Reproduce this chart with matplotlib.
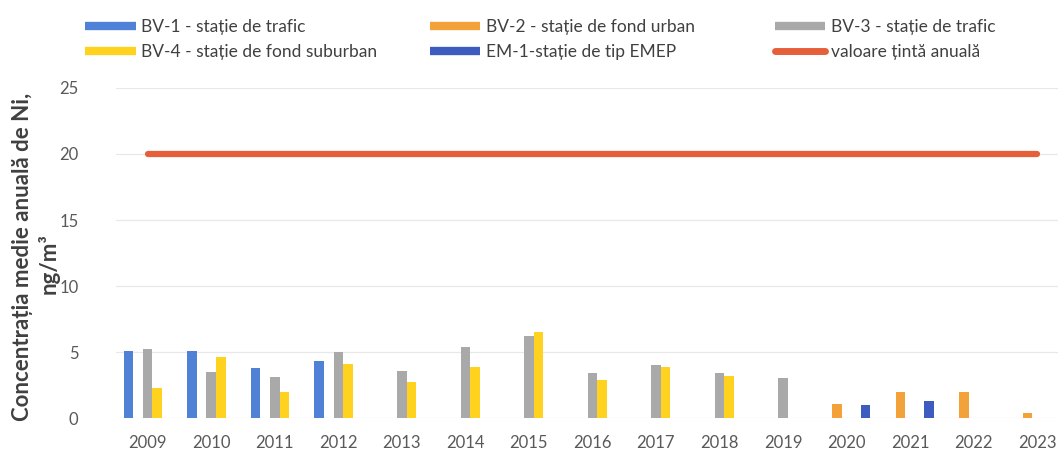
import numpy as np
import matplotlib.pyplot as plt
from matplotlib.lines import Line2D

years = [str(y) for y in range(2009, 2024)]
nan = np.nan
bv1 = [5.1, 5.1, 3.8, 4.3, nan, nan, nan, nan, nan, nan, nan, nan, nan, nan, nan]
bv2 = [nan, nan, nan, nan, nan, nan, nan, nan, nan, nan, nan, 1.1, 2.0, 2.0, 0.4]
bv3 = [5.2, 3.5, 3.1, 5.0, 3.6, 5.4, 6.2, 3.4, 4.0, 3.4, 3.0, nan, nan, nan, nan]
bv4 = [2.3, 4.6, 2.0, 4.1, 2.7, 3.9, 6.5, 2.9, 3.9, 3.2, nan, nan, nan, nan, nan]
em1 = [nan, nan, nan, nan, nan, nan, nan, nan, nan, nan, nan, 1.0, 1.3, nan, nan]
tinta = [20] * 15

labels = ["BV-1 - stație de trafic", "BV-2 - stație de fond urban",
          "BV-3 - stație de trafic", "BV-4 - stație de fond suburban",
          "EM-1-stație de tip EMEP", "valoare țintă anuală"]
colors = ["#4F81D6", "#F3A23A", "#A9A9A9", "#FFD21F", "#3E5CBF", "#E5603A"]

plt.rcParams['font.family'] = ['Lato', 'DejaVu Sans']

fig = plt.figure(figsize=(10.58, 4.63), dpi=100)
ax = fig.add_axes([0.1096, 0.097, 0.8904, 0.713])

x = np.arange(len(years))
w = 0.15
for i, s in enumerate([bv1, bv2, bv3, bv4, em1]):
    ax.bar(x + (i - 2) * w, s, width=w, color=colors[i], zorder=2)
ax.plot(x, tinta, color=colors[5], lw=4.5, solid_capstyle='round', zorder=3)

ax.set_xlim(-0.5, 14.33)
ax.set_ylim(0, 25)
ax.set_yticks([0, 5, 10, 15, 20, 25])
ax.set_xticks(x)
ax.set_xticklabels(years)
ax.tick_params(length=0, labelsize=12, colors="#595959", pad=12)
ax.tick_params(axis='y', pad=27)
ax.grid(axis='y', color="#E8E8E8", lw=0.9, zorder=0)
for sp in ax.spines.values():
    sp.set_visible(False)

fig.text(0.021, 0.445, "Concentrația medie anuală de Ni,", rotation=90,
         ha='center', va='center', fontsize=16, fontweight='bold', color="#404040")
fig.text(0.046, 0.43, "ng/m³", rotation=90,
         ha='center', va='center', fontsize=16, fontweight='bold', color="#404040")

def handle(c, line=False):
    if line:
        return Line2D([], [], color=c, lw=5, solid_capstyle='round')
    return Line2D([], [], color=c, lw=6, solid_capstyle='butt')

cols = [(0.069, [0, 3]), (0.395, [1, 4]), (0.721, [2, 5])]
for xpos, idx in cols:
    hs = [handle(colors[k], k == 5) for k in idx]
    fig.legend(hs, [labels[k] for k in idx], loc='upper left',
               bbox_to_anchor=(xpos, 0.985), frameon=False, fontsize=12.5,
               handlelength=2.9, handletextpad=0.3, labelspacing=0.5,
               labelcolor="#404040", borderaxespad=0.3)

fig.savefig("out.png", dpi=100)
